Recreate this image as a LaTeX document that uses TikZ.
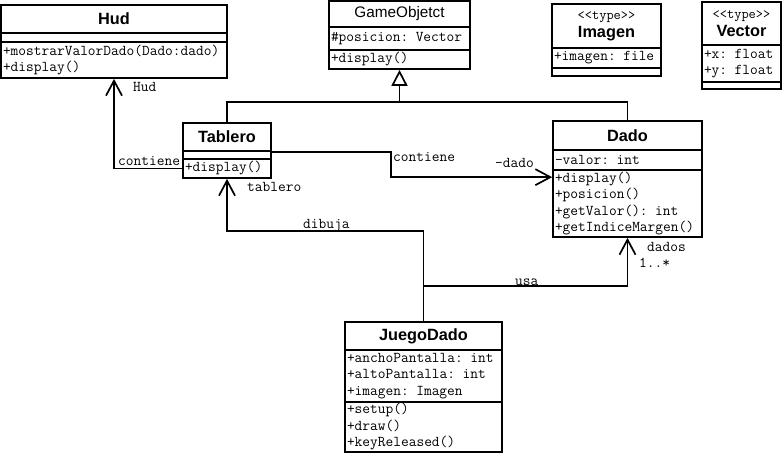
\documentclass[tikz,border=0pt]{standalone}
\usepackage{fontspec}
\setmainfont{Liberation Sans}
\newcommand{\monof}{\ttfamily}
\usetikzlibrary{arrows.meta,calc}
\newcommand{\umlcomp}[7]{%
  \pgfmathsetmacro\umlW{#5-#3}%
  \pgfmathsetmacro\umlH{#6-#4}%
  \pgfmathsetmacro\umlT{#5-#3-4}%
  \node[#1, minimum width=\umlW pt, minimum height=\umlH pt, text width=\umlT pt] (#2) at ({(#3+#5)/2},{(#4+#6)/2}) {#7};}
\begin{document}
\begin{tikzpicture}[x=1pt,y=-1pt,
  title/.style={draw,line width=1.7pt,inner xsep=2pt,inner ysep=0pt,align=center,font=\bfseries\fontsize{16.3}{18}\selectfont},
  mem/.style={draw,line width=1.7pt,inner xsep=2pt,inner ysep=0pt,align=left,font=\monof\fontsize{15}{16.5}\selectfont},
  lab/.style={font=\monof\fontsize{15}{16}\selectfont,inner sep=0pt,anchor=base west},
  conn/.style={line width=1.7pt},
  assoc/.style={line width=1.7pt,-{Straight Barb[length=15pt,width=16pt]}},
  inherit/.style={line width=1.7pt,-{Triangle[open,length=16pt,width=16pt,fill=white]}}]
\useasboundingbox (0,0) rectangle (784,457);
% Hud
\umlcomp{title}{hudT}{1}{5}{227}{33}{Hud}
\umlcomp{mem}{hudA}{1}{33}{227}{42}{}
\umlcomp{mem}{hudO}{1}{42}{227}{78}{+mostrarValorDado(Dado:dado)\\+display()}
% GameObjetct
\umlcomp{title,font=\mdseries\fontsize{15.3}{18}\selectfont}{goT}{329}{1}{470}{27}{GameObjetct}
\umlcomp{mem}{goA}{329}{27}{470}{50}{\#posicion: Vector}
\umlcomp{mem}{goO}{329}{50}{470}{69}{+display()}
% Imagen
\umlcomp{title}{imT}{552}{4}{661}{48}{{\monof\mdseries\fontsize{14}{12}\selectfont <{}<type>{}>}\\Imagen}
\umlcomp{mem}{imA}{552}{48}{661}{68}{+imagen: file}
\umlcomp{mem}{imO}{552}{68}{661}{76}{}
% Vector
\umlcomp{title}{veT}{702}{2}{781}{45}{{\monof\mdseries\fontsize{14}{12}\selectfont <{}<type>{}>}\\Vector}
\umlcomp{mem}{veA}{702}{45}{781}{82}{+x: float\\+y: float}
\umlcomp{mem}{veO}{702}{82}{781}{89}{}
% Tablero
\umlcomp{title}{tabT}{183}{123}{271}{151}{Tablero}
\umlcomp{mem}{tabA}{183}{151}{271}{159}{}
\umlcomp{mem}{tabO}{183}{159}{271}{178}{+display()}
% Dado
\umlcomp{title}{daT}{553}{121}{702}{150}{Dado}
\umlcomp{mem}{daA}{553}{150}{702}{170}{-valor: int}
\umlcomp{mem}{daO}{553}{170}{702}{237}{+display()\\+posicion()\\+getValor(): int\\+getIndiceMargen()}
% JuegoDado
\umlcomp{title}{jdT}{345}{322}{502}{350}{JuegoDado}
\umlcomp{mem}{jdA}{345}{350}{502}{402}{+anchoPantalla: int\\+altoPantalla: int\\+imagen: Imagen}
\umlcomp{mem}{jdO}{345}{402}{502}{452}{+setup()\\+draw()\\+keyReleased()}
% connectors
\coordinate (gen) at (goO.south |- 0,102);
\draw[conn] (tabT.north) |- (gen) -| (daT.north);
\draw[inherit] (gen) -- (goO.south);
\draw[assoc] (tabO.west) -| (hudO.south);
\draw[assoc] (tabT.south east) -- ++(119,0) |- ($(daO.north west)+(0,8)$);
\draw[assoc] (jdT.north) -- ++(0,-90) -| (tabO.south);
\draw[assoc] ($(jdT.north)+(0,-35)$) -| (daO.south);
% labels
\node[lab] (lHud) at (133,92) {Hud};
\node[lab] (lCont1) at (118,166) {contiene};
\node[lab] (lTab) at (247,192) {tablero};
\node[lab] (lDib) at (303,229) {dibuja};
\node[lab] (lCont2) at (393,162) {contiene};
\node[lab] (lDado) at (495,168) {-dado};
\node[lab] (lUsa) at (515,285) {usa};
\node[lab] (lDados) at (647,251) {dados};
\node[lab] (lMult) at (639,267) {1..*};
\end{tikzpicture}
\end{document}
